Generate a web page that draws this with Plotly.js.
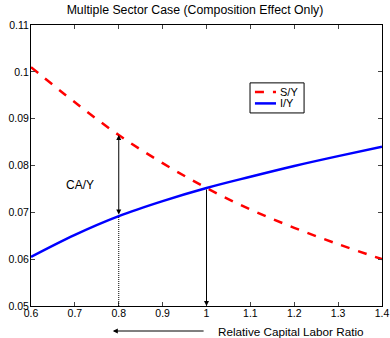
<!DOCTYPE html>
<html><head><meta charset="utf-8">
<script src="https://cdn.plot.ly/plotly-3.0.1.min.js"></script>
<style>html,body{margin:0;padding:0;background:#fff}#chart{width:390px;height:338px}</style>
</head><body><div id="chart"></div>
<script>
const ratio = [0.6, 0.7, 0.8, 0.9, 1.0, 1.1, 1.2, 1.3, 1.4];
const savingY = [0.101, 0.0935, 0.0865, 0.0805, 0.0752, 0.0706, 0.0667, 0.0632, 0.0600];
const investY = [0.0605, 0.0652, 0.0692, 0.0724, 0.0752, 0.0776, 0.0799, 0.0820, 0.0840];
const xTicks = [0.6, 0.7, 0.8, 0.9, 1, 1.1, 1.2, 1.3, 1.4];
const yTicks = [0.05, 0.06, 0.07, 0.08, 0.09, 0.1, 0.11];
const seriesNames = ['S/Y', 'I/Y'];
const seriesColors = ['#ff0000', '#0000ff'];
const seriesDash = ['dash', 'solid'];

const fam = 'Liberation Sans, Arial, sans-serif';
const font = {family: fam, size: 10.5, color: '#000'};
const traces = [
  {x: ratio, y: savingY, name: seriesNames[0], mode: 'lines', line: {color: seriesColors[0], width: 2.5, dash: seriesDash[0], shape: 'spline'}},
  {x: ratio, y: investY, name: seriesNames[1], mode: 'lines', line: {color: seriesColors[1], width: 2.5, dash: seriesDash[1], shape: 'spline'}}
];
const i08 = ratio.indexOf(0.8), i10 = ratio.indexOf(1.0);

// manual compact legend (paper coordinates)
const legendShapes = [
  {type: 'rect', xref: 'paper', yref: 'paper', x0: 0.624, x1: 0.778, y0: 0.687, y1: 0.794, line: {color: '#000', width: 1}, fillcolor: '#fff', layer: 'above'}
];
const legendAnn = [];
const legendY = [0.762, 0.721];
seriesNames.forEach((n, i) => {
  legendShapes.push({type: 'line', xref: 'paper', yref: 'paper', x0: 0.638, x1: 0.698, y0: legendY[i], y1: legendY[i], line: {color: seriesColors[i], width: 2.5, dash: seriesDash[i]}, layer: 'above'});
  legendAnn.push({xref: 'paper', yref: 'paper', x: 0.703, y: legendY[i], xanchor: 'left', yanchor: 'middle', text: n, showarrow: false, font: {size: 11, family: fam}});
});

const layout = {
  width: 390, height: 338,
  margin: {l: 31, r: 8, t: 25, b: 32},
  paper_bgcolor: '#fff', plot_bgcolor: '#fff',
  font: font,
  showlegend: false,
  title: {text: 'Multiple Sector Case (Composition Effect Only)', font: {size: 12.3, family: fam}, x: 0.5, xanchor: 'center', y: 0.985, yanchor: 'top'},
  xaxis: {range: [0.6, 1.4], tickvals: xTicks, ticktext: xTicks.map(String), ticks: 'inside', ticklen: 4, mirror: 'ticks', showline: true, linecolor: '#000', linewidth: 1, showgrid: false, zeroline: false, tickfont: font, ticklabelstandoff: -3},
  yaxis: {range: [0.05, 0.11], tickvals: yTicks, ticktext: yTicks.map(String), ticks: 'inside', ticklen: 4, mirror: 'ticks', showline: true, linecolor: '#000', linewidth: 1, showgrid: false, zeroline: false, tickfont: font, ticklabelstandoff: -1},
  shapes: [
    {type: 'line', xref: 'x', yref: 'y', x0: 0.8, x1: 0.8, y0: 0.05, y1: investY[i08], line: {color: '#000', width: 1, dash: '1px,1px'}}
  ].concat(legendShapes),
  annotations: [
    {xref: 'x', yref: 'y', axref: 'x', ayref: 'y', x: 0.8, y: savingY[i08], ax: 0.8, ay: investY[i08], showarrow: true, arrowside: 'end+start', arrowhead: 2, arrowsize: 1, arrowwidth: 1, arrowcolor: '#000', text: ''},
    {xref: 'x', yref: 'y', axref: 'x', ayref: 'y', x: 1.0, y: 0.05, ax: 1.0, ay: investY[i10], showarrow: true, arrowhead: 2, arrowsize: 1, arrowwidth: 1, arrowcolor: '#000', text: ''},
    {xref: 'x', yref: 'y', x: 0.711, y: 0.0758, text: 'CA/Y', showarrow: false, font: {size: 12, family: fam}},
    {xref: 'paper', yref: 'paper', x: 0.233, y: -0.089, ax: 0.496, ay: -0.089, axref: 'paper', ayref: 'paper', showarrow: true, arrowhead: 2, arrowsize: 1, arrowwidth: 1, arrowcolor: '#000', text: ''},
    {xref: 'paper', yref: 'paper', x: 0.528, y: -0.089, xanchor: 'left', yanchor: 'middle', text: 'Relative Capital Labor Ratio', showarrow: false, font: {size: 11.7, family: fam}}
  ].concat(legendAnn)
};
Plotly.newPlot('chart', traces, layout, {displayModeBar: false, staticPlot: true});
</script></body></html>
